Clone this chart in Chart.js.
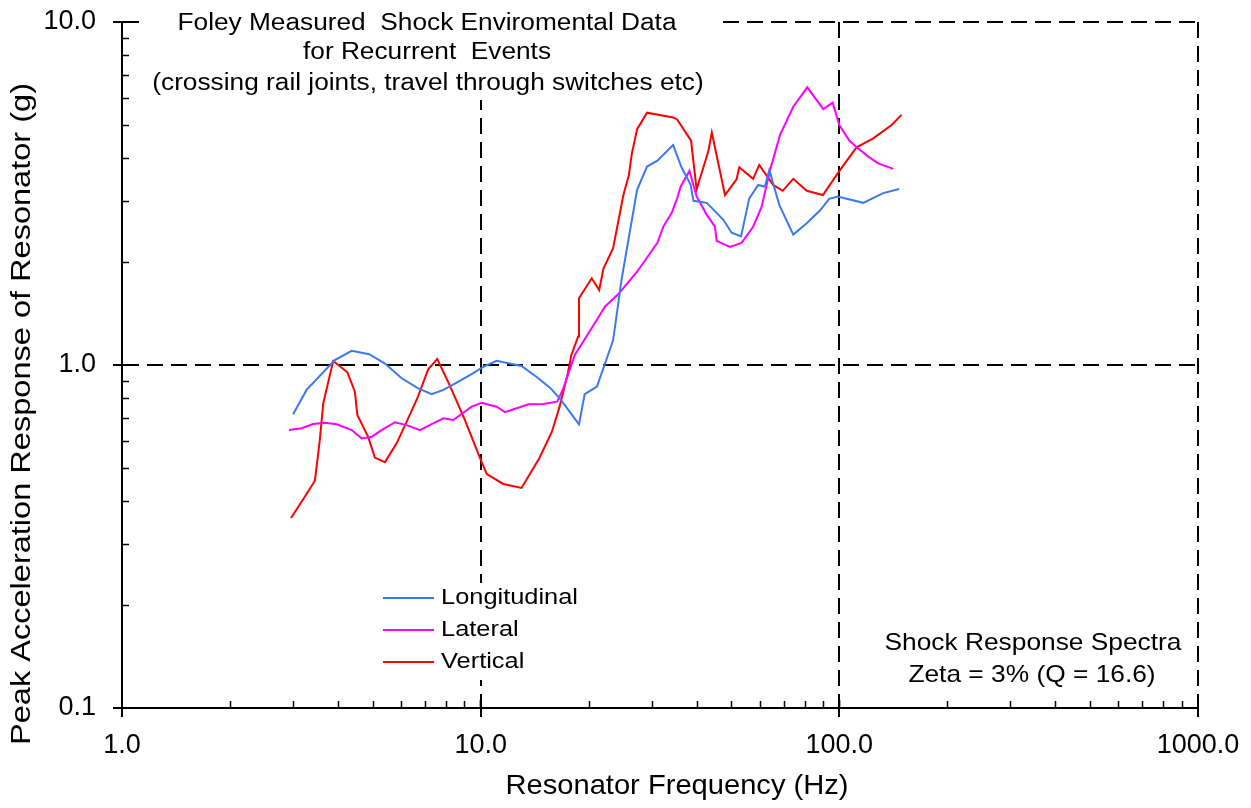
<!DOCTYPE html>
<html>
<head>
<meta charset="utf-8">
<title>Shock Response Spectra</title>
<script src="https://cdn.jsdelivr.net/npm/chart.js@4.4.1/dist/chart.umd.min.js"></script>
<style>
  html, body { margin: 0; padding: 0; background: #fff; }
  #wrap { width: 1251px; height: 808px; }
</style>
</head>
<body>
<div id="wrap"><canvas id="srsChart" width="1251" height="808"></canvas></div>
<script>
// values
const longFreq = [3.0, 3.27, 3.92, 4.37, 4.89, 5.41, 6.02, 6.70, 7.30, 7.87, 8.57, 9.33, 10.2, 11.08, 13.0, 14.3, 15.6, 16.6, 18.8, 19.5, 21.1, 23.4, 24.7, 27.3, 29.1, 31.1, 34.4, 36.3, 38.5, 39.2, 42.7, 47.5, 50.1, 53.2, 56.1, 59.4, 62.0, 63.8, 68.0, 74.4, 81.1, 88.3, 93.7, 98.9, 116.6, 132.5, 146.9];
const longAcc  = [0.718, 0.846, 1.034, 1.10, 1.075, 1.01, 0.915, 0.855, 0.822, 0.846, 0.888, 0.935, 0.989, 1.029, 0.993, 0.924, 0.859, 0.80, 0.671, 0.822, 0.865, 1.18, 1.77, 3.24, 3.79, 3.94, 4.38, 3.77, 3.35, 3.01, 2.97, 2.65, 2.43, 2.37, 3.06, 3.35, 3.31, 3.70, 2.93, 2.40, 2.59, 2.82, 3.05, 3.10, 2.97, 3.17, 3.26];

const latFreq = [2.92, 3.17, 3.41, 3.68, 3.97, 4.37, 4.66, 4.97, 5.35, 5.77, 6.22, 6.77, 7.30, 7.87, 8.39, 8.94, 9.44, 10.06, 11.08, 11.69, 12.6, 13.6, 14.95, 16.35, 17.0, 18.3, 20.8, 22.2, 24.2, 27.3, 31.1, 32.3, 34.1, 35.3, 36.1, 38.2, 40.0, 42.7, 45.0, 45.5, 49.5, 53.4, 57.5, 60.7, 64.1, 68.3, 74.4, 81.4, 90.2, 95.8, 100, 106.6, 112.9, 120.4, 128.4, 141.3];
const latAcc  = [0.646, 0.654, 0.673, 0.679, 0.672, 0.646, 0.611, 0.618, 0.650, 0.681, 0.668, 0.646, 0.672, 0.699, 0.691, 0.726, 0.756, 0.776, 0.756, 0.729, 0.748, 0.768, 0.770, 0.782, 0.855, 1.07, 1.323, 1.479, 1.61, 1.87, 2.27, 2.53, 2.78, 3.06, 3.31, 3.68, 3.10, 2.74, 2.53, 2.30, 2.21, 2.27, 2.53, 2.89, 3.70, 4.68, 5.66, 6.45, 5.57, 5.82, 5.01, 4.51, 4.28, 4.05, 3.87, 3.73];

const vertFreq = [2.96, 3.20, 3.45, 3.56, 3.64, 3.88, 4.25, 4.46, 4.53, 4.86, 5.07, 5.41, 5.83, 6.22, 6.66, 7.14, 7.57, 8.21, 9.04, 9.96, 10.4, 11.56, 13.0, 14.57, 15.8, 16.6, 17.5, 17.9, 18.7, 18.8, 20.4, 21.4, 22.0, 23.4, 25.0, 25.9, 26.4, 27.3, 29.1, 34.4, 35.3, 38.6, 40.0, 43.1, 44.1, 48.0, 51.7, 52.6, 57.5, 59.8, 65.4, 69.5, 74.4, 81.1, 90.0, 100.4, 111.7, 124.3, 139.9, 149.1];
const vertAcc  = [0.358, 0.406, 0.460, 0.604, 0.773, 1.027, 0.952, 0.836, 0.715, 0.616, 0.537, 0.521, 0.591, 0.684, 0.80, 0.971, 1.041, 0.869, 0.691, 0.535, 0.481, 0.450, 0.438, 0.535, 0.639, 0.756, 0.946, 1.07, 1.21, 1.565, 1.79, 1.654, 1.91, 2.19, 3.13, 3.58, 4.14, 4.87, 5.44, 5.27, 5.20, 4.51, 3.25, 4.19, 4.76, 3.13, 3.48, 3.77, 3.49, 3.83, 3.35, 3.22, 3.49, 3.22, 3.13, 3.70, 4.31, 4.58, 5.01, 5.36];

const xTicks = [1, 10, 100, 1000];
const yTicks = [0.1, 1, 10];
const seriesNames = ['Longitudinal', 'Lateral', 'Vertical'];
const seriesColors = ['#3C78F0', '#FF00FF', '#FF0000'];

const titleLines = ['Foley Measured  Shock Enviromental Data', 'for Recurrent  Events', '(crossing rail joints, travel through switches etc)'];
const noteLines = ['Shock Response Spectra', 'Zeta = 3% (Q = 16.6)'];

const FONT = '"Liberation Sans", Arial, Helvetica, sans-serif';

function toPoints(xs, ys) {
  return xs.map((x, i) => ({x: x, y: ys[i]}));
}

// text with horizontal stretch, like the original export
function drawText(ctx, text, x, y, size, sx, align) {
  ctx.save();
  ctx.font = size + 'px ' + FONT;
  ctx.fillStyle = '#000';
  ctx.textBaseline = 'middle';
  ctx.textAlign = align || 'center';
  ctx.translate(x, y);
  ctx.scale(sx, 1);
  ctx.fillText(text, 0, 0);
  ctx.restore();
}
function fitScale(ctx, text, size, width) {
  ctx.save();
  ctx.font = size + 'px ' + FONT;
  const w = ctx.measureText(text).width;
  ctx.restore();
  return width / w;
}

const overlay = {
  id: 'overlay',
  beforeDatasetsDraw(chart) {
    const ctx = chart.ctx;
    const xs = chart.scales.x;
    ctx.save();
    ctx.fillStyle = '#fff';
    // boxes behind the text blocks hide the grid
    ctx.fillRect(xs.left + 18, 0, 715 - xs.left - 18, 100);
    ctx.fillRect(378, 583, 207, 97);
    ctx.restore();

    // title block
    const s1 = fitScale(ctx, titleLines[0], 23, 499);
    drawText(ctx, titleLines[0], 427, 24, 23, s1);
    drawText(ctx, titleLines[1], 427, 53, 23, s1);
    drawText(ctx, titleLines[2], 428, 84, 23, s1);

    // note block
    const s2 = fitScale(ctx, noteLines[0], 24, 297);
    drawText(ctx, noteLines[0], 1033, 643, 24, s2);
    drawText(ctx, noteLines[1], 1032, 675, 24, s2);

    // legend
    const s3 = fitScale(ctx, seriesNames[0], 22, 137);
    const rows = [598, 630, 662];
    seriesNames.forEach((name, i) => {
      ctx.save();
      ctx.strokeStyle = seriesColors[i];
      ctx.lineWidth = 2;
      ctx.beginPath();
      ctx.moveTo(383, rows[i]);
      ctx.lineTo(434, rows[i]);
      ctx.stroke();
      ctx.restore();
      drawText(ctx, name, 441, rows[i], 22, s3, 'left');
    });

    // axis titles
    const sxT = fitScale(ctx, 'Resonator Frequency (Hz)', 28, 343);
    drawText(ctx, 'Resonator Frequency (Hz)', 677, 786, 28, sxT);
    const yT = 'Peak Acceleration Response of Resonator (g)';
    const syT = fitScale(ctx, yT, 27, 662);
    ctx.save();
    ctx.translate(23, 414);
    ctx.rotate(-Math.PI / 2);
    drawText(ctx, yT, 0, 0, 27, syT);
    ctx.restore();
  },
  afterDraw(chart) {
    const ctx = chart.ctx;
    const xs = chart.scales.x, ys = chart.scales.y;
    const bottom = chart.chartArea.bottom, left = chart.chartArea.left;
    ctx.save();
    ctx.strokeStyle = '#000';
    ctx.lineWidth = 1.5;
    ctx.beginPath();
    // minor ticks pointing into the plot
    [1, 10, 100].forEach(d => {
      for (let k = 2; k <= 9; k++) {
        const px = Math.round(xs.getPixelForValue(d * k)) + 0.5;
        ctx.moveTo(px, bottom);
        ctx.lineTo(px, bottom - 7);
      }
    });
    [0.1, 1].forEach(d => {
      for (let k = 2; k <= 9; k++) {
        const py = Math.round(ys.getPixelForValue(d * k)) + 0.5;
        ctx.moveTo(left, py);
        ctx.lineTo(left + 7, py);
      }
    });
    ctx.stroke();
    ctx.lineWidth = 2;
    ctx.beginPath();
    xTicks.slice(1).forEach(v => {
      const px = xs.getPixelForValue(v);
      ctx.moveTo(px, bottom);
      ctx.lineTo(px, bottom - 8);
    });
    yTicks.slice(1).forEach(v => {
      const py = ys.getPixelForValue(v);
      ctx.moveTo(left, py);
      ctx.lineTo(left + 15, py);
    });
    ctx.stroke();
    ctx.restore();
  }
};

const axisCommon = {
  type: 'logarithmic',
  grid: {
    color: '#000',
    lineWidth: 2,
    drawTicks: true,
    tickLength: 9,
    tickWidth: 2,
    tickColor: '#000'
  },
  border: { display: true, color: '#000', width: 2, dash: [16, 8] }
};

const config = {
  type: 'scatter',
  data: {
    datasets: [
      { label: seriesNames[0], data: toPoints(longFreq, longAcc), borderColor: seriesColors[0] },
      { label: seriesNames[1], data: toPoints(latFreq, latAcc), borderColor: seriesColors[1] },
      { label: seriesNames[2], data: toPoints(vertFreq, vertAcc), borderColor: seriesColors[2] }
    ]
  },
  options: {
    responsive: false,
    animation: false,
    devicePixelRatio: 1,
    layout: { padding: { top: 22, right: 53, left: 0, bottom: 0 } },
    datasets: {
      scatter: { showLine: true, pointRadius: 0, borderWidth: 2, tension: 0, fill: false }
    },
    plugins: { legend: { display: false }, tooltip: { enabled: false } },
    scales: {
      x: Object.assign({}, axisCommon, {
        min: 1, max: 1000,
        afterBuildTicks: s => { s.ticks = xTicks.map(v => ({value: v})); },
        afterFit: s => { s.height = 100; s.paddingLeft = 0; s.paddingRight = 0; },
        ticks: {
          autoSkip: false, maxRotation: 0, padding: 12, color: '#000',
          font: { family: FONT, size: 27 },
          callback: v => Number(v).toFixed(1)
        }
      }),
      y: Object.assign({}, axisCommon, {
        min: 0.1, max: 10,
        afterBuildTicks: s => { s.ticks = yTicks.map(v => ({value: v})); },
        afterFit: s => { s.width = 122; s.paddingTop = 0; s.paddingBottom = 0; },
        ticks: {
          autoSkip: false, padding: 17, color: '#000',
          font: { family: FONT, size: 27 },
          callback: v => Number(v).toFixed(1)
        }
      })
    }
  },
  plugins: [overlay]
};

const srsChart = new Chart(document.getElementById('srsChart'), config);
</script>
</body>
</html>
